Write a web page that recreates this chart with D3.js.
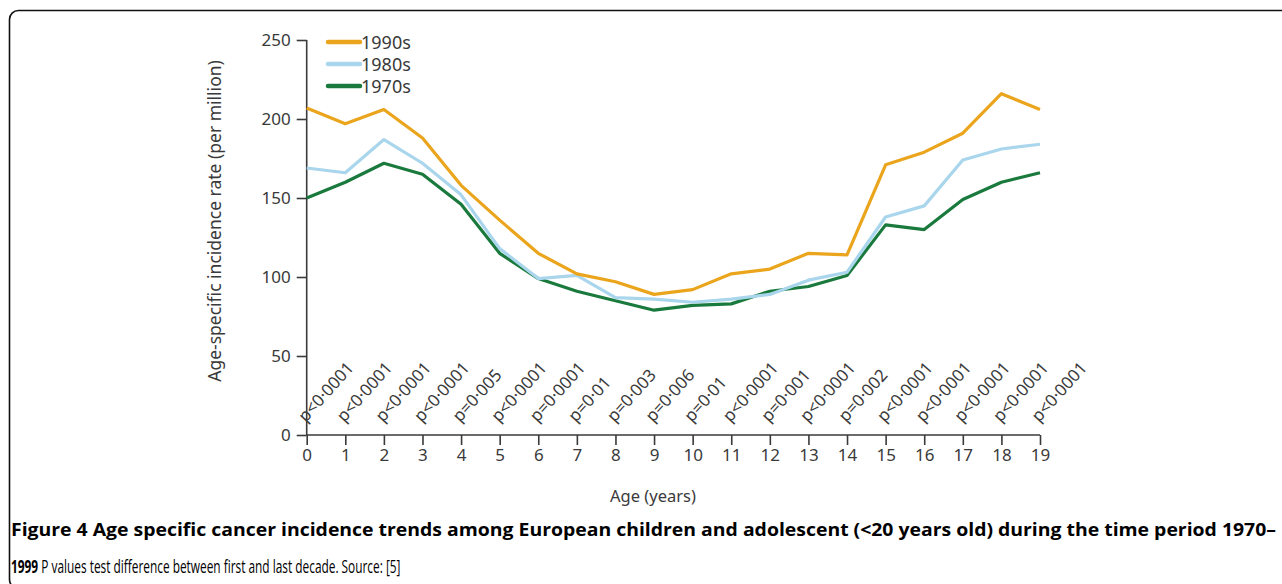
<!DOCTYPE html>
<html>
<head>
<meta charset="utf-8">
<script src="https://cdn.jsdelivr.net/npm/d3@7"></script>
<style>
  html, body { margin: 0; padding: 0; background: #fff; overflow: hidden; }
  svg { display: block; overflow: hidden; }
</style>
</head>
<body>
<svg id="chart" width="1282" height="584"></svg>
<script>
// Age-specific incidence rate (per million), European children and adolescents
const ages = d3.range(0, 20);
const rate1990s = [207, 197, 206, 188, 158, 136, 115, 102, 97, 89, 92, 102, 105, 115, 114, 171, 179, 191, 216, 206];
const rate1980s = [169, 166, 187, 172, 152, 118, 99, 101, 87, 86, 84, 86, 89, 98, 103, 138, 145, 174, 181, 184];
const rate1970s = [150, 160, 172, 165, 146, 115, 99, 91, 85, 79, 82, 83, 91, 94, 101, 133, 130, 149, 160, 166];
const seriesNames = ["1990s", "1980s", "1970s"];
const pValues = ["p<0·0001", "p<0·0001", "p<0·0001", "p<0·0001", "p=0·005", "p<0·0001", "p=0·0001", "p=0·01",
  "p=0·003", "p=0·006", "p=0·01", "p<0·0001", "p=0·001", "p<0·0001", "p=0·002", "p<0·0001",
  "p<0·0001", "p<0·0001", "p<0·0001", "p<0·0001"];
const yTicks = [0, 50, 100, 150, 200, 250];

const colors = { "1990s": "#eba51d", "1980s": "#a9d6ec", "1970s": "#1a7a3d" };
const values = { "1990s": rate1990s, "1980s": rate1980s, "1970s": rate1970s };

const svg = d3.select("#chart");
const font = "'Noto Sans', 'Open Sans', sans-serif";
const ink = "#3a3a3a";

// Rounded frame around figure + caption (right and bottom edges run off the page)
svg.append("rect")
  .attr("x", 9.5).attr("y", 10.5)
  .attr("width", 1320).attr("height", 578)
  .attr("rx", 9).attr("ry", 9)
  .attr("fill", "none").attr("stroke", "#111").attr("stroke-width", 1.6);

const x = d3.scaleLinear().domain([0, 19]).range([306.7, 1040]);
const y = d3.scaleLinear().domain([0, 250]).range([435, 40]);

const g = svg.append("g");

// Y axis
const yAxis = g.append("g")
  .attr("transform", `translate(${x(0)},0)`)
  .call(d3.axisLeft(y).tickValues(yTicks).tickSize(10).tickPadding(6));
// X axis
const xAxis = g.append("g")
  .attr("transform", `translate(0,${y(0)})`)
  .call(d3.axisBottom(x).tickValues(ages).tickSize(10).tickPadding(4));

[yAxis, xAxis].forEach(ax => {
  ax.select(".domain").attr("stroke", ink).attr("stroke-width", 1.6);
  ax.selectAll(".tick line").attr("stroke", ink).attr("stroke-width", 1.6);
  ax.selectAll(".tick text")
    .attr("fill", ink)
    .style("font-family", font)
    .style("font-size", "17px");
});
yAxis.select(".domain").attr("d", `M0,${y(250)}V${y(0)}`);
xAxis.select(".domain").attr("d", `M${x(0)},0H${x(19)}`);

// Axis titles
g.append("text")
  .attr("transform", `translate(221,221) rotate(-90)`)
  .attr("text-anchor", "middle")
  .attr("fill", ink)
  .style("font-family", font).style("font-size", "17.5px")
  .text("Age-specific incidence rate (per million)");

g.append("text")
  .attr("x", 653).attr("y", 502)
  .attr("text-anchor", "middle")
  .attr("fill", ink)
  .style("font-family", font).style("font-size", "16.5px")
  .text("Age (years)");

// P-value annotations, one per age
g.append("g").selectAll("text")
  .data(ages)
  .join("text")
  .attr("transform", d => `translate(${x(d) - 1},${y(0) - 12}) rotate(-48)`)
  .attr("fill", ink)
  .style("font-family", font).style("font-size", "17px")
  .text(d => pValues[d]);

// Lines (1970s first so 1990s sits on top)
const line = d3.line().x((d, i) => x(ages[i])).y(d => y(d));
["1970s", "1980s", "1990s"].forEach(name => {
  g.append("path")
    .datum(values[name])
    .attr("d", line)
    .attr("fill", "none")
    .attr("stroke", colors[name])
    .attr("stroke-width", 3.2)
    .attr("stroke-linejoin", "round");
});

// Legend
const legend = g.append("g");
seriesNames.forEach((name, i) => {
  const ly = 42 + i * 22;
  legend.append("line")
    .attr("x1", 328).attr("x2", 360)
    .attr("y1", ly).attr("y2", ly)
    .attr("stroke", colors[name]).attr("stroke-width", 4.5)
    .attr("stroke-linecap", "round");
  legend.append("text")
    .attr("x", 361).attr("y", ly + 6.5)
    .attr("fill", ink)
    .style("font-family", font).style("font-size", "18px")
    .text(name);
});

// Caption
const cap = svg.append("g").attr("fill", "#000");
cap.append("text")
  .attr("x", 11).attr("y", 536)
  .style("font-family", "'Open Sans', sans-serif")
  .style("font-size", "17px")
  .attr("textLength", 1265).attr("lengthAdjust", "spacingAndGlyphs")
  .style("font-weight", "bold")
  .text("Figure 4 Age specific cancer incidence trends among European children and adolescent (<20 years old) during the time period 1970–");

// second caption line, set in a narrow face and fitted to its printed width
const l2 = cap.append("text")
  .attr("x", 0).attr("y", 0)
  .style("font-family", "'Liberation Sans Narrow', 'Open Sans', sans-serif")
  .style("font-size", "17.5px");
l2.append("tspan").style("font-weight", "bold").text("1999");
l2.append("tspan").text(" P values test difference between first and last decade. Source: [5]");
const natural = l2.node().getComputedTextLength();
l2.attr("transform", `translate(11,573) scale(${390 / natural},1)`);
</script>
</body>
</html>
